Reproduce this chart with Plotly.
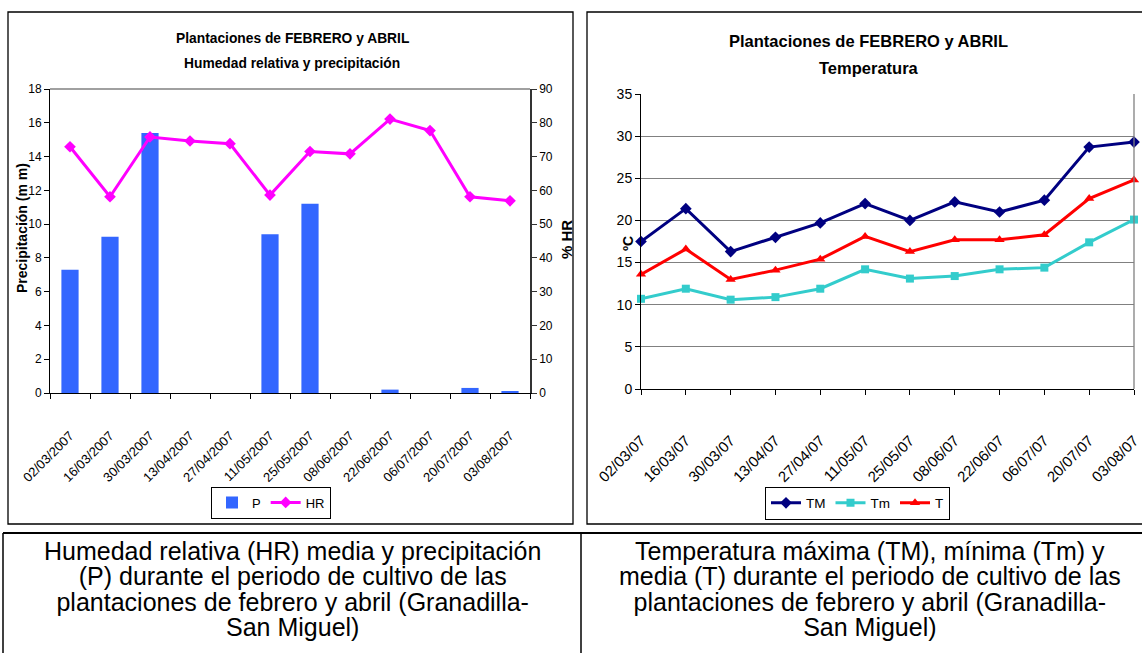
import plotly.graph_objects as go

W, H = 1142, 653

fechas_largas = ["02/03/2007", "16/03/2007", "30/03/2007", "13/04/2007", "27/04/2007", "11/05/2007",
                 "25/05/2007", "08/06/2007", "22/06/2007", "06/07/2007", "20/07/2007", "03/08/2007"]
fechas_cortas = ["02/03/07", "16/03/07", "30/03/07", "13/04/07", "27/04/07", "11/05/07",
                 "25/05/07", "08/06/07", "22/06/07", "06/07/07", "20/07/07", "03/08/07"]

precipitacion = [7.3, 9.25, 15.4, 0, 0, 9.4, 11.2, 0, 0.2, 0, 0.3, 0.1]
humedad = [72.9, 58.1, 75.8, 74.6, 73.8, 58.6, 71.5, 70.8, 81.1, 77.7, 58.1, 56.9]

t_max = [17.5, 21.4, 16.3, 18.0, 19.7, 22.0, 20.0, 22.2, 21.0, 22.4, 28.7, 29.3]
t_min = [10.7, 11.9, 10.6, 10.9, 11.9, 14.2, 13.1, 13.4, 14.2, 14.4, 17.4, 20.1]
t_med = [13.6, 16.6, 13.0, 14.1, 15.4, 18.1, 16.3, 17.7, 17.7, 18.3, 22.6, 24.8]

caption_izq = ["Humedad relativa (HR) media y precipitación",
               "(P) durante el periodo de cultivo de las",
               "plantaciones de febrero y abril (Granadilla-",
               "San Miguel)"]
caption_der = ["Temperatura máxima (TM), mínima (Tm) y",
               "media (T) durante el periodo de cultivo de las",
               "plantaciones de febrero y abril (Granadilla-",
               "San Miguel)"]

SANS = "Liberation Sans, Arial, sans-serif"


# pixel -> paper coords
def px(x):
    return x / W


def py(y):
    return 1 - y / H


fig = go.Figure()

# left chart: precipitation bars + humidity line
fig.add_trace(go.Bar(
    x=fechas_largas, y=precipitacion, name="P",
    xaxis="x", yaxis="y", width=0.43,
    marker=dict(color="#3366FF", line=dict(width=0)),
    legend="legend"
))
fig.add_trace(go.Scatter(
    x=fechas_largas, y=humedad, name="HR",
    xaxis="x", yaxis="y2", mode="lines+markers",
    line=dict(color="#FF00FF", width=3),
    marker=dict(symbol="diamond", size=9, color="#FF00FF"),
    legend="legend", cliponaxis=False
))

# right chart: temperatures
fig.add_trace(go.Scatter(
    x=fechas_cortas, y=t_max, name="TM", xaxis="x2", yaxis="y3",
    mode="lines+markers", line=dict(color="#000080", width=3),
    marker=dict(symbol="diamond", size=9, color="#000080"),
    legend="legend2", cliponaxis=False
))
fig.add_trace(go.Scatter(
    x=fechas_cortas, y=t_min, name="Tm", xaxis="x2", yaxis="y3",
    mode="lines+markers", line=dict(color="#33CCCC", width=3),
    marker=dict(symbol="square", size=8, color="#33CCCC"),
    legend="legend2", cliponaxis=False
))
fig.add_trace(go.Scatter(
    x=fechas_cortas, y=t_med, name="T", xaxis="x2", yaxis="y3",
    mode="lines+markers", line=dict(color="#FF0000", width=3),
    marker=dict(symbol="triangle-up", size=9, color="#FF0000"),
    legend="legend2", cliponaxis=False
))

axis_common = dict(automargin=False, zeroline=False, showgrid=False,
                   showline=True, linecolor="black", linewidth=1,
                   ticks="outside", ticklen=5, tickcolor="black")

fig.update_layout(
    template="none",
    width=W, height=H,
    margin=dict(l=0, r=0, t=0, b=0, pad=0, autoexpand=False),
    paper_bgcolor="white", plot_bgcolor="white",
    font=dict(family=SANS, color="black"),
    showlegend=True,
    xaxis=dict(
        axis_common, domain=[px(50), px(530)], anchor="y", type="category",
        range=[-0.5, 11.5], tickson="boundaries",
        tickangle=-45, tickfont=dict(size=13),
        ticklabelstandoff=29
    ),
    yaxis=dict(
        axis_common, domain=[py(393), py(89)], anchor="x",
        range=[0, 18], dtick=2, tickfont=dict(size=12)
    ),
    yaxis2=dict(
        axis_common, overlaying="y", side="right", anchor="x",
        range=[0, 90], dtick=10, tickfont=dict(size=12),
        linecolor="#333333", linewidth=1.5, tickcolor="#333333"
    ),
    xaxis2=dict(
        axis_common, domain=[px(641), px(1134)], anchor="y3", type="category",
        range=[0, 11],
        tickangle=-45, tickfont=dict(size=15),
        ticklabelstandoff=31
    ),
    yaxis3=dict(
        axis_common, domain=[py(389), py(94)], anchor="x2",
        range=[0, 35], dtick=5, tickfont=dict(size=14),
        showgrid=True, gridcolor="#808080", gridwidth=1.3
    ),
    legend=dict(
        x=px(271), y=py(502.5), xanchor="center", yanchor="middle",
        orientation="h", bgcolor="white", bordercolor="black", borderwidth=1,
        font=dict(size=13), itemwidth=30
    ),
    legend2=dict(
        x=px(857.5), y=py(503), xanchor="center", yanchor="middle",
        orientation="h", bgcolor="white", bordercolor="black", borderwidth=1,
        font=dict(size=13.5), itemwidth=30
    ),
)

# frames and caption table
shapes = [
    dict(type="rect", x0=px(8), x1=px(573), y0=py(12), y1=py(524),
         line=dict(color="black", width=1.3)),
    dict(type="rect", x0=px(587), x1=px(1160), y0=py(12), y1=py(524),
         line=dict(color="black", width=1.3)),
    # plot area borders (gray)
    dict(type="line", x0=px(50), x1=px(530), y0=py(89), y1=py(89),
         line=dict(color="#808080", width=1.3)),
    dict(type="line", x0=px(1134), x1=px(1134), y0=py(94), y1=py(389),
         line=dict(color="#808080", width=1.3)),
    # caption table
    dict(type="line", x0=px(3), x1=px(1160), y0=py(533), y1=py(533),
         line=dict(color="black", width=2)),
    dict(type="line", x0=px(3), x1=px(3), y0=py(533), y1=py(670),
         line=dict(color="black", width=1.5)),
    dict(type="line", x0=px(581), x1=px(581), y0=py(533), y1=py(670),
         line=dict(color="black", width=1.5)),
]
for s in shapes:
    s.update(xref="paper", yref="paper", layer="above")
fig.update_layout(shapes=shapes)

annotations = []


def add_text(text, x, y, size, bold=False, angle=0, yanchor="middle"):
    if bold:
        text = "<b>" + text + "</b>"
    annotations.append(dict(
        text=text, x=px(x), y=py(y), xref="paper", yref="paper",
        xanchor="center", yanchor=yanchor, showarrow=False,
        textangle=angle, font=dict(size=size, family=SANS, color="black")
    ))


# chart titles
add_text("Plantaciones de FEBRERO y ABRIL", 292, 39, 13.8, bold=True)
add_text("Humedad relativa y precipitación", 292, 63, 13.8, bold=True)
add_text("Plantaciones de FEBRERO y ABRIL", 868, 41, 16.5, bold=True)
add_text("Temperatura", 869, 68, 16.5, bold=True)

# axis titles
add_text("Precipitación (m m)", 22, 228, 14, bold=True, angle=-90)
add_text("% HR", 566, 240, 15, bold=True, angle=-90)
add_text("ºC", 628, 244, 14, bold=True, angle=-90)


# captions: one block per cell, line pitch from base size, glyphs a bit larger
def caption(lines):
    return "<br>".join('<span style="font-size:25px">' + t + "</span>" for t in lines)


add_text(caption(caption_izq), 292, 535, 19.6, yanchor="top")
add_text(caption(caption_der), 870, 535, 19.6, yanchor="top")

fig.update_layout(annotations=annotations)

fig.write_html("out.html", config={"displayModeBar": False},
               post_script="document.body.style.margin='0px';")
